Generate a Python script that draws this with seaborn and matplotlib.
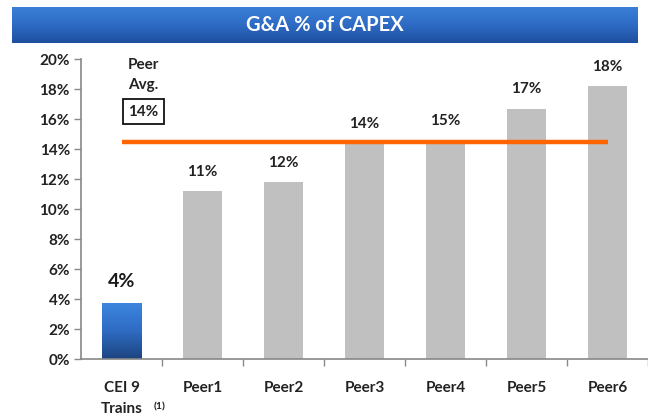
import numpy as np
import pandas as pd
import seaborn as sns
import matplotlib.pyplot as plt
from matplotlib.colors import LinearSegmentedColormap

categories = ["CEI 9", "Peer1", "Peer2", "Peer3", "Peer4", "Peer5", "Peer6"]
values = [3.75, 11.2, 11.8, 14.4, 14.6, 16.7, 18.2]
labels = ["4%", "11%", "12%", "14%", "15%", "17%", "18%"]
peer_avg = 14.5
peer_avg_label = "14%"
title = "G&A % of CAPEX"

sns.set_theme(style="white")
plt.rcParams['font.family'] = ['Lato', 'DejaVu Sans']
plt.rcParams['font.weight'] = 'bold'

fig = plt.figure(figsize=(6.48, 4.16), dpi=100)
ax = fig.add_axes([0.125, 0.137, 0.875, 0.721])

df = pd.DataFrame({"cat": categories, "val": values})
colors = ["#2a63b8"] + ["#c0c0c0"] * 6
sns.barplot(data=df, x="cat", y="val", hue="cat", palette=colors, legend=False,
            width=0.49, ax=ax, saturation=1, edgecolor="none")

# gradient on first bar
p = ax.patches[0]
x0, y0 = p.get_x(), p.get_y()
w, h = p.get_width(), p.get_height()
cmap = LinearSegmentedColormap.from_list("b", ["#1c447f", "#2f6cc4", "#3d86e0"])
grad = np.linspace(0, 1, 256).reshape(-1, 1)
im = ax.imshow(grad, cmap=cmap, origin="lower", aspect="auto",
               extent=[x0, x0 + w, y0, y0 + h], zorder=p.get_zorder() + 0.1)
im.set_clip_path(p)

ax.set_xlim(-0.5, 6.5)
ax.set_ylim(0, 20)
ax.set_yticks(np.arange(0, 21, 2))
ax.set_yticklabels([f"{v}%" for v in range(0, 21, 2)], fontsize=11, fontweight="bold", color="#222222")
ax.set_xticks(range(len(categories)))
ax.set_xticklabels(categories, fontsize=11, fontweight="bold", color="#222222")
ax.set_xticks(np.arange(0.5, 6.6, 1), minor=True)
ax.tick_params(axis="x", which="major", length=0, pad=16)
ax.tick_params(axis="x", which="minor", length=5, color="#888888", width=1, direction="out", bottom=True)
ax.tick_params(axis="y", length=5, color="#888888", width=1, direction="out", left=True, pad=3)
ax.set_xlabel("")
ax.set_ylabel("")
for s in ["top", "right"]:
    ax.spines[s].set_visible(False)
for s in ["left", "bottom"]:
    ax.spines[s].set_color("#888888")
    ax.spines[s].set_linewidth(1.2)

# Trains (1)
ax.text(0, -3.35, "Trains", ha="center", va="center", fontsize=11, fontweight="bold", color="#222222")
ax.text(0.47, -3.2, "(1)", ha="center", va="center", fontsize=7.5, fontweight="bold", color="#222222")
for t in ax.texts:
    t.set_clip_on(False)

# data labels
for i, (v, lab) in enumerate(zip(values, labels)):
    if i == 0:
        ax.text(i, v + 1.4, lab, ha="center", va="center", fontsize=14, fontweight="bold", color="#1a1a1a")
    else:
        ax.text(i, v + 1.3, lab, ha="center", va="center", fontsize=11, fontweight="bold", color="#222222")

# peer avg line
ax.plot([0, 6], [peer_avg, peer_avg], color="#ff6400", lw=3.2, solid_capstyle="butt", zorder=5)
ax.text(0.27, 19.6, "Peer", ha="center", va="center", fontsize=11, fontweight="bold", color="#222222")
ax.text(0.27, 18.3, "Avg.", ha="center", va="center", fontsize=11, fontweight="bold", color="#222222")
ax.text(0.27, 16.5, peer_avg_label, ha="center", va="center", fontsize=11, fontweight="bold", color="#222222",
        bbox=dict(boxstyle="square,pad=0.35", fc="white", ec="#111111", lw=1.3))

# title bar
tax = fig.add_axes([0.0185, 0.897, 0.965, 0.085])
tcmap = LinearSegmentedColormap.from_list("t", ["#1e4f9e", "#2e6bc4", "#3a7fd6"])
tax.imshow(np.linspace(0, 1, 256).reshape(-1, 1), cmap=tcmap, origin="lower", aspect="auto",
           extent=[0, 1, 0, 1])
tax.set_xlim(0, 1)
tax.set_ylim(0, 1)
tax.axis("off")
tax.text(0.5, 0.5, title, ha="center", va="center", fontsize=14.5, fontweight="bold", color="white")

fig.savefig("out.png", dpi=100)
